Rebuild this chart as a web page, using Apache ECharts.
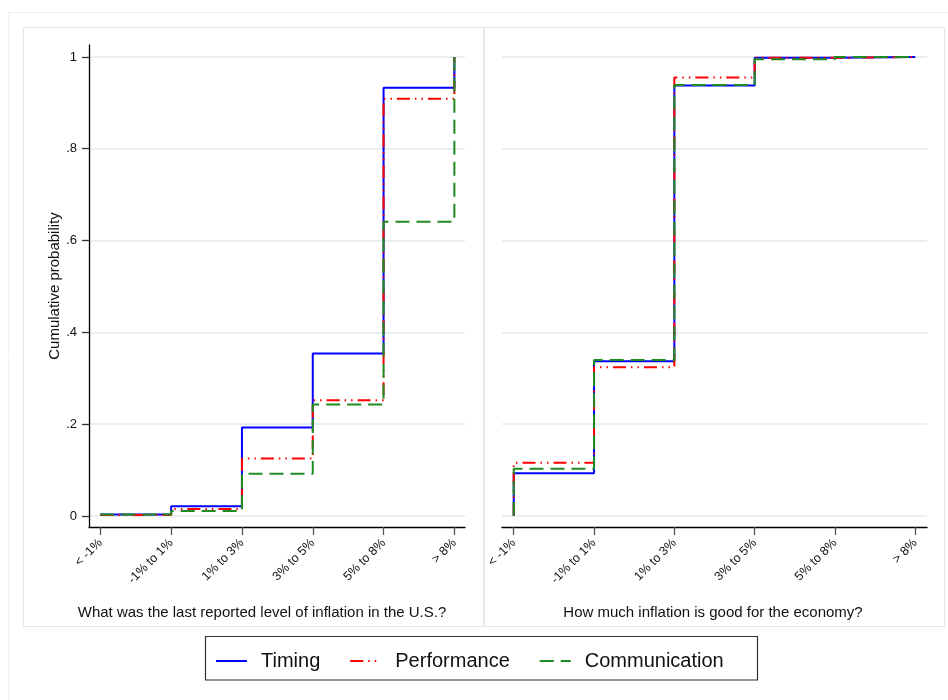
<!DOCTYPE html>
<html>
<head>
<meta charset="utf-8">
<script src="https://cdn.jsdelivr.net/npm/echarts@6/dist/echarts.min.js"></script>
<style>
  html, body { margin: 0; padding: 0; background: #fff; }
  #chart { width: 948px; height: 700px; }
</style>
</head>
<body>
<div id="chart"></div>
<script>
// Answer categories shared by both questions
const categories = ['< -1%', '-1% to 1%', '1% to 3%', '3% to 5%', '5% to 8%', '> 8%'];

// Panel 1: last reported level of inflation (cumulative shares)
const lastX = [1, 2, 3, 4, 5, 6];
const lastTiming        = [0.003, 0.021, 0.193, 0.354, 0.933, 1.000];
const lastPerformance   = [0.002, 0.015, 0.125, 0.252, 0.909, 1.000];
const lastCommunication = [0.003, 0.011, 0.092, 0.243, 0.641, 1.000];

// Panel 2: how much inflation is good (curve starts from zero at the first category)
const goodX = [1, 1, 2, 3, 4, 5, 6];
const goodTiming        = [0, 0.093, 0.337, 0.938, 0.998, 1.000, 1.000];
const goodPerformance   = [0, 0.116, 0.324, 0.955, 0.998, 1.000, 1.000];
const goodCommunication = [0, 0.103, 0.340, 0.939, 0.995, 1.000, 1.000];

const yTicks = [0, 0.2, 0.4, 0.6, 0.8, 1];
const yTickLabels = ['0', '.2', '.4', '.6', '.8', '1'];
const seriesNames = ['Timing', 'Performance', 'Communication'];
const panelTitles = [
  'What was the last reported level of inflation in the U.S.?',
  'How much inflation is good for the economy?'
];

const FONT = "'Liberation Sans', Arial, Helvetica, sans-serif";
const lineStyles = {
  Timing:        { color: '#0000ff', type: 'solid' },
  Performance:   { color: '#ff0000', type: [13, 5, 1.5, 5, 1.5, 5] },
  Communication: { color: '#1f8a1f', type: [14, 7] }
};

const pairs = (xs, ys) => xs.map((x, i) => [x, ys[i]]);
const panelData = [
  { xs: lastX, values: [lastTiming, lastPerformance, lastCommunication] },
  { xs: goodX, values: [goodTiming, goodPerformance, goodCommunication] }
];

const series = [];
panelData.forEach((panel, p) => {
  seriesNames.forEach((name, k) => {
    series.push({
      name: name,
      type: 'line',
      xAxisIndex: p,
      yAxisIndex: p,
      step: 'end',
      symbol: 'none',
      color: lineStyles[name].color,
      lineStyle: { color: lineStyles[name].color, type: lineStyles[name].type, width: 2 },
      data: pairs(panel.xs, panel.values[k]),
      z: 3 + k
    });
  });
});

const catLabel = v => categories[Math.round(v) - 1] || '';
const yLabel = v => {
  const i = yTicks.findIndex(t => Math.abs(t - v) < 1e-6);
  return i >= 0 ? yTickLabels[i] : '';
};

function makeXAxis(gridIndex, min, max) {
  return {
    type: 'value', gridIndex: gridIndex, min: min, max: max,
    axisLine: { show: true, onZero: false, lineStyle: { color: '#000', width: 1.3 } },
    axisTick: { show: true, customValues: lastX, length: 8, lineStyle: { color: '#555', width: 1.3 } },
    axisLabel: {
      customValues: lastX, formatter: catLabel, rotate: 45, margin: 14,
      fontSize: 12.5, color: '#111', fontFamily: FONT
    },
    splitLine: { show: false }
  };
}

function makeYAxis(gridIndex, visible) {
  return {
    type: 'value', gridIndex: gridIndex, min: -0.024, max: 1.026,
    axisLine: { show: visible, onZero: false, lineStyle: { color: '#000', width: 1.3 } },
    axisTick: { show: visible, customValues: yTicks, length: 7, lineStyle: { color: '#333', width: 1.3 } },
    axisLabel: {
      show: visible, customValues: yTicks, formatter: yLabel, margin: 12,
      fontSize: 13, color: '#111', fontFamily: FONT
    },
    splitLine: { show: true, lineStyle: { color: '#e8eff0', width: 2 } },
    name: visible ? 'Cumulative probability' : '',
    nameLocation: 'middle', nameGap: 27,
    nameTextStyle: { fontSize: 15, color: '#111', fontFamily: FONT }
  };
}

const chart = echarts.init(document.getElementById('chart'), null, { renderer: 'canvas' });
chart.setOption({
  animation: false,
  backgroundColor: '#ffffff',
  textStyle: { fontFamily: FONT },
  grid: [
    { left: 89, top: 45, width: 376, height: 482 },
    { left: 502, top: 45, width: 425, height: 482 }
  ],
  xAxis: [makeXAxis(0, 0.84, 6.15), makeXAxis(1, 0.854, 6.146)],
  yAxis: [makeYAxis(0, true), makeYAxis(1, false)],
  legend: {
    data: seriesNames,
    left: 210, top: 646,
    itemWidth: 31, itemHeight: 14, itemGap: 29,
    itemStyle: { opacity: 0 },
    textStyle: {
      fontSize: 20, color: '#111', fontFamily: FONT,
      padding: [0, 0, 0, 9]
    }
  },
  graphic: [
    { type: 'rect', silent: true, z: -10,
      shape: { x: 8.5, y: 12.5, width: 960, height: 720 },
      style: { fill: 'none', stroke: '#edf3f3', lineWidth: 1 } },
    { type: 'rect', silent: true, z: -9,
      shape: { x: 23.5, y: 27.5, width: 460, height: 599 },
      style: { fill: 'none', stroke: '#e6e8e8', lineWidth: 1 } },
    { type: 'rect', silent: true, z: -9,
      shape: { x: 484.5, y: 27.5, width: 460, height: 599 },
      style: { fill: 'none', stroke: '#e6e8e8', lineWidth: 1 } },
    { type: 'rect', silent: true, z: 1,
      shape: { x: 205.5, y: 636.5, width: 552, height: 43.5 },
      style: { fill: 'none', stroke: '#333', lineWidth: 1.2 } },
    { type: 'text', x: 262, y: 613,
      style: { text: panelTitles[0], align: 'center', verticalAlign: 'middle',
               fontSize: 15, fontFamily: FONT, fill: '#111' } },
    { type: 'text', x: 713, y: 613,
      style: { text: panelTitles[1], align: 'center', verticalAlign: 'middle',
               fontSize: 15, fontFamily: FONT, fill: '#111' } }
  ],
  series: series
});
</script>
</body>
</html>
